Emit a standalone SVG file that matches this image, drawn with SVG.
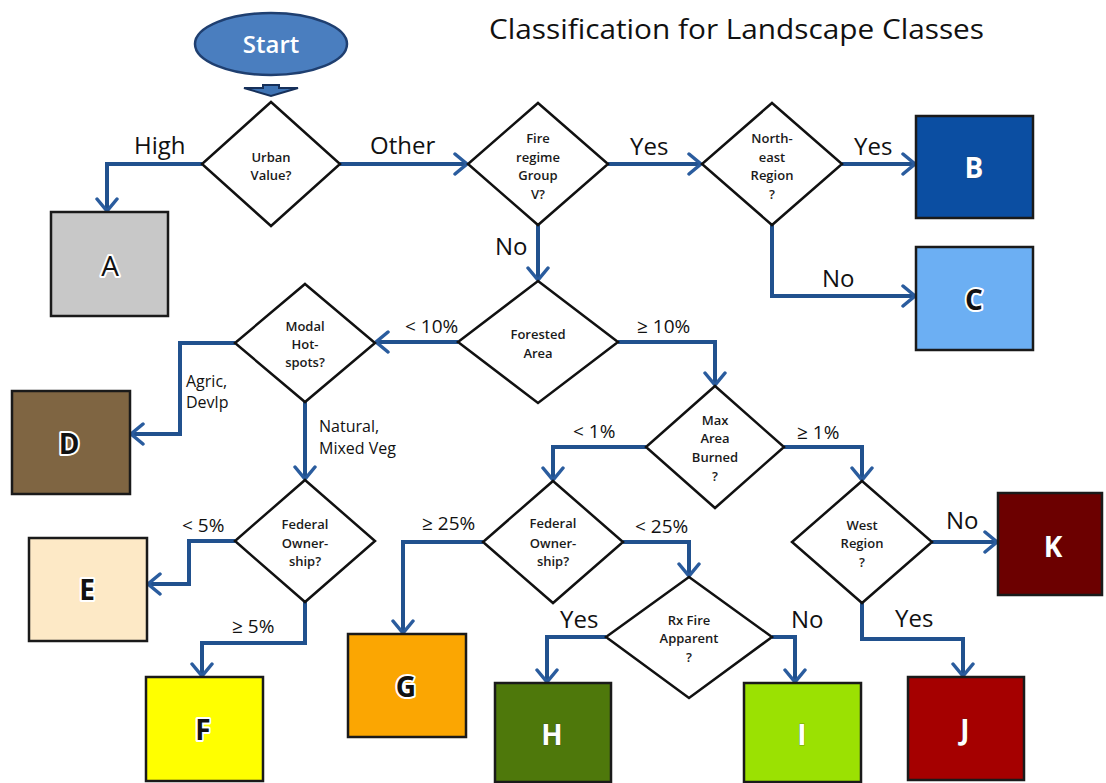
<svg xmlns="http://www.w3.org/2000/svg" width="1106" height="783" viewBox="0 0 1106 783">
<defs>
<style>
.dia{fill:#fff;stroke:#111;stroke-width:2.5;stroke-linejoin:miter}
.box{stroke:#1a1a1a;stroke-width:2.5}
.conn{fill:none;stroke:#21518e;stroke-width:4;stroke-linejoin:miter}
.dt{font-family:"Open Sans","Liberation Sans",sans-serif;font-size:13px;font-weight:600;fill:#1a1a1a;text-anchor:middle}
.lbl{font-family:"Open Sans","Liberation Sans",sans-serif;font-size:24px;fill:#111}
.pct{font-family:"Open Sans","Liberation Sans",sans-serif;font-size:19px;fill:#111}
.sm{font-family:"Open Sans","Liberation Sans",sans-serif;font-size:16px;fill:#111}
.let{font-family:"Open Sans","Liberation Sans",sans-serif;font-size:28px;font-weight:bold;text-anchor:middle}
.reg{font-weight:normal}
.dk{fill:#111;stroke:#fff;stroke-width:4;paint-order:stroke;stroke-linejoin:round}
.wh{fill:#fff;stroke:#333;stroke-width:1;paint-order:stroke;stroke-opacity:0.4}
</style>
<marker id="ah" markerUnits="userSpaceOnUse" markerWidth="18" markerHeight="24" viewBox="0 0 18 24" refX="15" refY="12" orient="auto">
<path d="M3,2 L15,12 L3,22" fill="none" stroke="#2a5c9e" stroke-width="3.5" stroke-linecap="round"/>
</marker>
</defs>
<rect width="1106" height="783" fill="#fff"/>

<text x="489" y="39" font-family="'Open Sans','Liberation Sans',sans-serif" font-size="28" fill="#111" textLength="495" lengthAdjust="spacingAndGlyphs">Classification for Landscape Classes</text>

<g id="connectors">
<polygon points="263,85 279,85 279,88 298,88 271,96 244,88 263,88" fill="#3f74b5" stroke="#16305a" stroke-width="2"/>
<path class="conn" d="M202,164 H107 V211" marker-end="url(#ah)"/>
<path class="conn" d="M340,164 H467" marker-end="url(#ah)"/>
<path class="conn" d="M608,164 H701" marker-end="url(#ah)"/>
<path class="conn" d="M842,164 H915" marker-end="url(#ah)"/>
<path class="conn" d="M772,225 V296 H915" marker-end="url(#ah)"/>
<path class="conn" d="M538,225 V280" marker-end="url(#ah)"/>
<path class="conn" d="M458,342 H376" marker-end="url(#ah)"/>
<path class="conn" d="M618,342 H715 V385" marker-end="url(#ah)"/>
<path class="conn" d="M235,343 H180 V434 H131" marker-end="url(#ah)"/>
<path class="conn" d="M305,402 V479" marker-end="url(#ah)"/>
<path class="conn" d="M235,541 H189 V584 H148" marker-end="url(#ah)"/>
<path class="conn" d="M305,602 V643 H202 V676" marker-end="url(#ah)"/>
<path class="conn" d="M646,447 H553 V480" marker-end="url(#ah)"/>
<path class="conn" d="M784,447 H862 V480" marker-end="url(#ah)"/>
<path class="conn" d="M483,542 H403 V633" marker-end="url(#ah)"/>
<path class="conn" d="M623,542 H689 V576" marker-end="url(#ah)"/>
<path class="conn" d="M606,637 H547 V682" marker-end="url(#ah)"/>
<path class="conn" d="M772,637 H795 V682" marker-end="url(#ah)"/>
<path class="conn" d="M932,542 H997" marker-end="url(#ah)"/>
<path class="conn" d="M862,602 V639 H963 V676" marker-end="url(#ah)"/>

<text class="lbl" x="134" y="154">High</text>
<text class="lbl" x="370" y="154">Other</text>
<text class="lbl" x="630" y="155">Yes</text>
<text class="lbl" x="854" y="155">Yes</text>
<text class="lbl" x="822" y="287">No</text>
<text class="lbl" x="495" y="255">No</text>
<text class="pct" x="405" y="333">&lt; 10%</text>
<text class="pct" x="637" y="333">≥ 10%</text>
<text class="sm" x="186" y="387">Agric,</text>
<text class="sm" x="186" y="408">Devlp</text>
<text class="sm" x="319" y="432">Natural,</text>
<text class="sm" x="319" y="454">Mixed Veg</text>
<text class="pct" x="182" y="532">&lt; 5%</text>
<text class="pct" x="232" y="633">≥ 5%</text>
<text class="pct" x="422" y="530">≥ 25%</text>
<text class="pct" x="573" y="438">&lt; 1%</text>
<text class="pct" x="797" y="439">≥ 1%</text>
<text class="pct" x="635" y="533">&lt; 25%</text>
<text class="lbl" x="560" y="628">Yes</text>
<text class="lbl" x="791" y="628">No</text>
<text class="lbl" x="946" y="529">No</text>
<text class="lbl" x="895" y="627">Yes</text>
</g>

<g id="start">
<ellipse cx="271" cy="44" rx="76" ry="31" fill="#4a7ebf" stroke="#1f3f70" stroke-width="2.5"/>
<text x="271" y="53" text-anchor="middle" font-family="'Open Sans','Liberation Sans',sans-serif" font-size="24" font-weight="600" fill="#fff">Start</text>
</g>

<g id="urban">
<polygon class="dia" points="271,102 340,164 271,226 202,164"/>
<text class="dt" x="271" y="162">Urban</text>
<text class="dt" x="271" y="180">Value?</text>
</g>

<g id="fire">
<polygon class="dia" points="538,103 608,164 538,225 468,164"/>
<text class="dt" x="538" y="143">Fire</text>
<text class="dt" x="538" y="161.5">regime</text>
<text class="dt" x="538" y="180">Group</text>
<text class="dt" x="538" y="198.5">V?</text>
</g>

<g id="northeast">
<polygon class="dia" points="772,103 842,164 772,225 702,164"/>
<text class="dt" x="772" y="143">North-</text>
<text class="dt" x="772" y="161.5">east</text>
<text class="dt" x="772" y="180">Region</text>
<text class="dt" x="772" y="198.5">?</text>
</g>

<g id="forested">
<polygon class="dia" points="538,281 618,342 538,403 458,342"/>
<text class="dt" x="538" y="339">Forested</text>
<text class="dt" x="538" y="358">Area</text>
</g>

<g id="modal">
<polygon class="dia" points="305,284 375,343 305,402 235,343"/>
<text class="dt" x="305" y="331">Modal</text>
<text class="dt" x="305" y="349">Hot-</text>
<text class="dt" x="305" y="367">spots?</text>
</g>

<g id="federal1">
<polygon class="dia" points="305,480 375,541 305,602 235,541"/>
<text class="dt" x="305" y="529">Federal</text>
<text class="dt" x="305" y="548">Owner-</text>
<text class="dt" x="305" y="566">ship?</text>
</g>

<g id="maxarea">
<polygon class="dia" points="715,386 784,447 715,508 646,447"/>
<text class="dt" x="715" y="425">Max</text>
<text class="dt" x="715" y="443">Area</text>
<text class="dt" x="715" y="462">Burned</text>
<text class="dt" x="715" y="481">?</text>
</g>

<g id="federal2">
<polygon class="dia" points="553,481 623,542 553,603 483,542"/>
<text class="dt" x="553" y="528">Federal</text>
<text class="dt" x="553" y="548">Owner-</text>
<text class="dt" x="553" y="566">ship?</text>
</g>

<g id="rxfire">
<polygon class="dia" points="689,577 772,637 689,698 606,637"/>
<text class="dt" x="689" y="625">Rx Fire</text>
<text class="dt" x="689" y="643">Apparent</text>
<text class="dt" x="689" y="662">?</text>
</g>

<g id="west">
<polygon class="dia" points="862,481 932,542 862,603 792,542"/>
<text class="dt" x="862" y="530">West</text>
<text class="dt" x="862" y="548">Region</text>
<text class="dt" x="862" y="567">?</text>
</g>

<g id="A"><rect class="box" x="51" y="212" width="117" height="104" fill="#c8c8c8"/><text class="let dk reg" x="110" y="276">A</text></g>
<g id="B"><rect class="box" x="916" y="116" width="117" height="102" fill="#0b4ea2"/><text class="let wh" x="974" y="178">B</text></g>
<g id="C"><rect class="box" x="916" y="247" width="117" height="103" fill="#6caff3"/><text class="let dk" x="974" y="310">C</text></g>
<g id="D"><rect class="box" x="12" y="391" width="118" height="103" fill="#7f6542"/><text class="let dk" x="69" y="454">D</text></g>
<g id="E"><rect class="box" x="29" y="538" width="118" height="103" fill="#fde9c6"/><text class="let dk" x="87" y="600">E</text></g>
<g id="F"><rect class="box" x="146" y="677" width="117" height="104" fill="#ffff00"/><text class="let dk" x="203" y="740">F</text></g>
<g id="G"><rect class="box" x="348" y="634" width="118" height="103" fill="#fba602"/><text class="let dk" x="406" y="697">G</text></g>
<g id="H"><rect class="box" x="495" y="683" width="116" height="99" fill="#4e780b"/><text class="let wh" x="552" y="745">H</text></g>
<g id="I"><rect class="box" x="744" y="683" width="117" height="99" fill="#9be102"/><text class="let wh" x="802" y="745">I</text></g>
<g id="J"><rect class="box" x="908" y="677" width="116" height="103" fill="#a50000"/><text class="let wh" x="965" y="740">J</text></g>
<g id="K"><rect class="box" x="998" y="493" width="104" height="102" fill="#6c0000"/><text class="let wh" x="1053" y="557">K</text></g>
</svg>
